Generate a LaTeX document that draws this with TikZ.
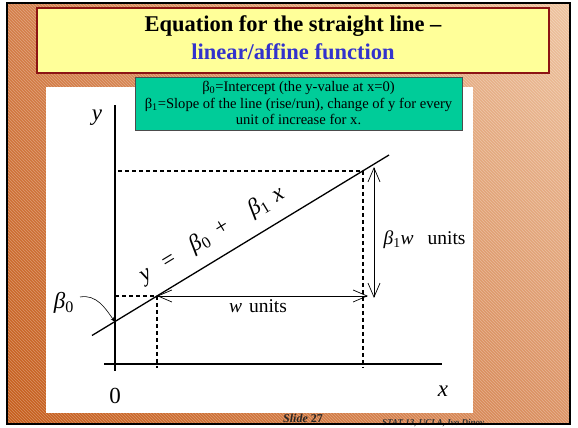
\documentclass[tikz,border=0pt]{standalone}
\usepackage{fontspec}
\setmainfont{Liberation Serif}
\usetikzlibrary{arrows.meta,patterns,shadings}
\definecolor{framedark}{RGB}{198,94,28}
\definecolor{framemid}{RGB}{212,126,74}
\definecolor{framelow}{RGB}{220,146,100}
\definecolor{framelight}{RGB}{238,196,160}
\definecolor{titleyellow}{RGB}{255,255,153}
\definecolor{titlered}{RGB}{140,20,20}
\definecolor{titleblue}{RGB}{51,51,204}
\definecolor{noteteal}{RGB}{0,204,153}

\begin{document}
\begin{tikzpicture}[x=1pt,y=1pt,
  axis/.style={line width=1.3pt},
  guide/.style={line width=1.2pt,dash pattern=on 4pt off 3pt},
  span/.style={line width=0.7pt,{Straight Barb[length=14pt,width=12pt]}-{Straight Barb[length=14pt,width=12pt]}},
  big/.style={font=\fontsize{23}{27}\selectfont},
  mid/.style={font=\fontsize{19.5}{23}\selectfont}]
\useasboundingbox (0,0) rectangle (578,428);
\shade[lower left=framedark,upper left=framemid,lower right=framelow,upper right=framelight] (7,4) rectangle (570,425);
\fill[pattern=north west lines,pattern color=white,opacity=0.3] (7,4) rectangle (570,425);
\draw[fill=titleyellow,draw=titlered,line width=1.5pt] (37,355) rectangle (549,420);
\node[font=\fontsize{22.5}{26}\selectfont] (title) at (293,402) {\bfseries Equation for the straight line –};
\node[font=\fontsize{22.5}{26}\selectfont,text=titleblue] (subtitle) at (293,376) {\bfseries linear/affine function};
\fill[white] (46,15) rectangle (473,341);
\draw[fill=noteteal,draw=black!70,line width=0.6pt] (135,298) rectangle (462,351);
\node[align=center,font=\fontsize{14.6}{16.5}\selectfont] (note) at (298.5,325)
  {β\textsubscript{0}=Intercept (the y-value at x=0)\\
   β\textsubscript{1}=Slope of the line (rise/run), change of y for every\\
   unit of increase for x.};
\draw[axis] (115,57) -- (115,323);
\draw[axis] (104,64) -- (442,64);
\node[big] (ylab) at (97,310) {\textit{y}};
\node[big] (xlab) at (443,37) {\textit{x}};
\node[big] (origin) at (115,32) {0};
\coordinate (lstart) at (92,92.5);
\coordinate (lend) at (389,273);
\coordinate (b0) at (115,106);
\coordinate (p1) at (157,132);
\coordinate (p2) at (363,257);
\coordinate (p1y) at (115,132);
\coordinate (p2y) at (118,257);
\coordinate (p1x) at (157,60);
\coordinate (p2x) at (363,60);
\draw[line width=1.3pt] (lstart) -- (lend);
\draw[guide] (p1y) -- (p1) -- (p1x);
\draw[guide] (p2y) -- (p2) -- (p2x);
\coordinate (q1) at (368,132);
\draw[span] (p1) -- (q1);
\coordinate (r1) at (374,130);
\coordinate (r2) at (374,261);
\draw[span] (r1) -- (r2);
\node[mid] (run) at (258,122) {\textit{w}\hspace{7pt}units};
\node[mid,anchor=west] (rise) at (380,188)
  {\textit{β}\textsubscript{1}\textit{w}\hspace{14pt}units};
\node[big,rotate=31.2] (eq) at (212,193)
  {\textit{y}\hspace{16pt}=\hspace{19pt}\textit{β}\textsubscript{0}\hspace{10pt}+\hspace{26pt}\textit{β}\textsubscript{1}\hspace{8pt}\textit{x}};
\node[big] (b0lab) at (64,125) {\textit{β}\textsubscript{0}};
\coordinate (c0) at (80,131);
\draw[line width=0.6pt,-{Stealth[length=5pt]}] (c0) to[out=10,in=125] (b0);
\node[font=\fontsize{12}{14}\selectfont,text=black!85] (slide) at (303,10) {\textbf{\textit{Slide}} \textbf{27}};
\node[font=\fontsize{9}{10}\selectfont\bfseries\itshape,text=black!80] (credit) at (433,5) {STAT 13, UCLA, Ivo Dinov};
\draw[line width=1.5pt] (7,4) rectangle (570,425);
\end{tikzpicture}
\end{document}
